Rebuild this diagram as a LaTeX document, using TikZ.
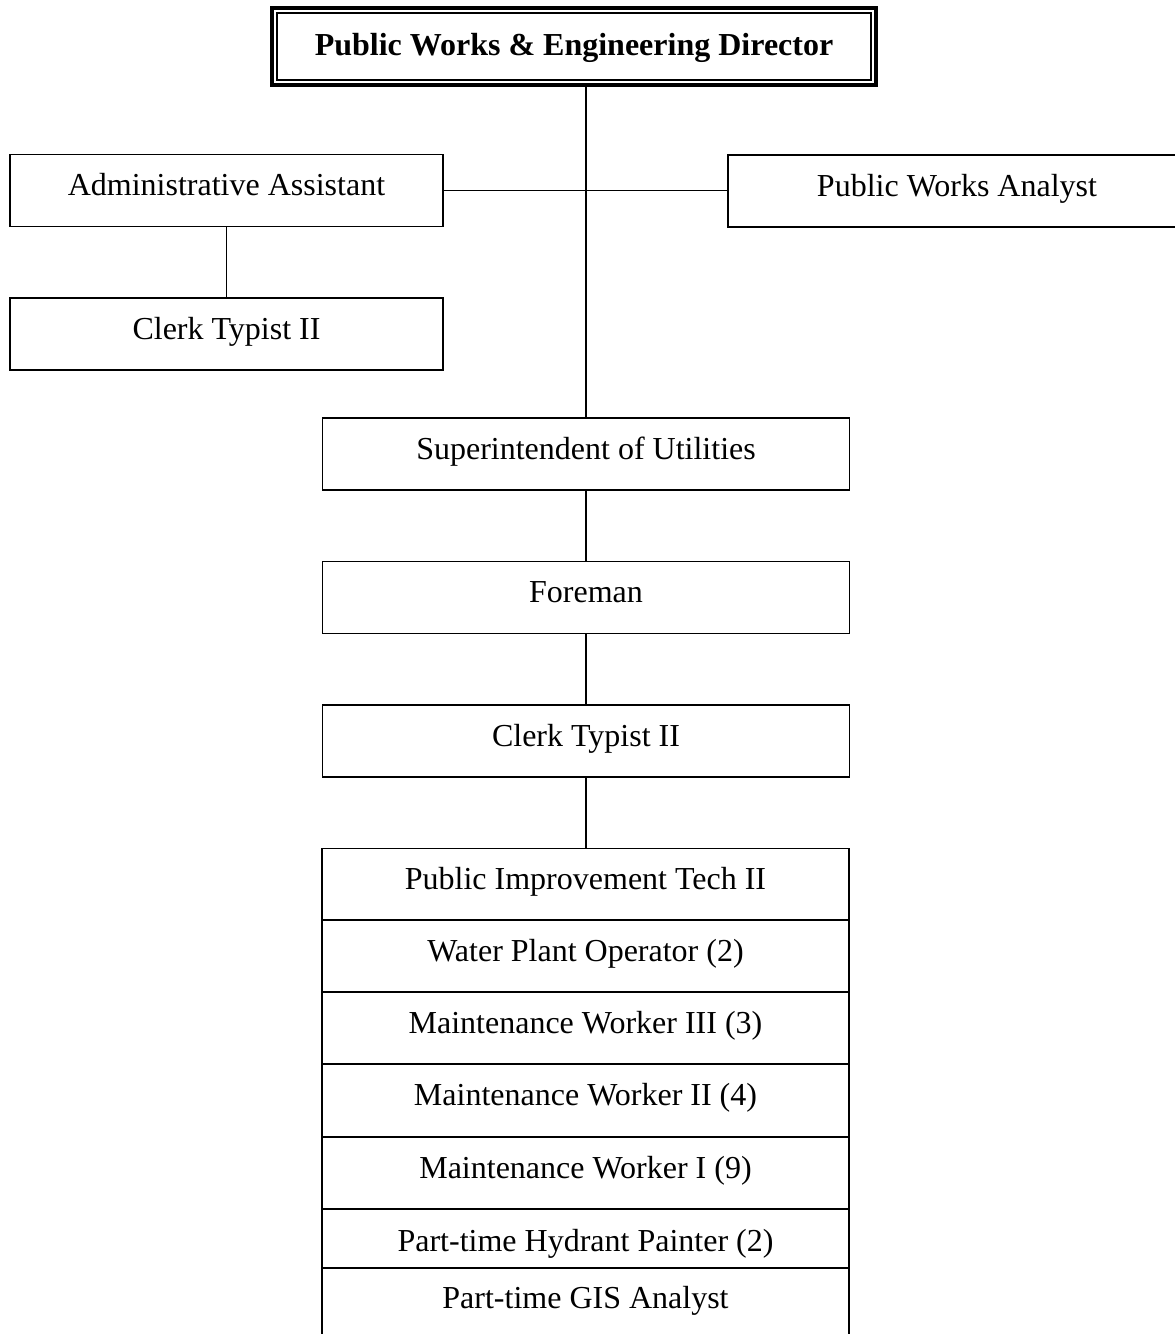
\documentclass[tikz,border=0pt]{standalone}
\usepackage{fontspec}
\setmainfont{Liberation Serif}
\begin{document}
\begin{tikzpicture}[x=1pt,y=-1pt,
  every node/.style={font=\fontsize{32}{32}\selectfont},
  post/.style={draw, line width=1.8pt, rectangle, inner sep=0pt, outer sep=0pt, align=center,
    text height=41pt, text depth=31pt},
  wide/.style={post, minimum width=433pt},
  mid/.style={post, minimum width=527pt},
  row/.style={mid},
  link/.style={line width=1.8pt}]
\useasboundingbox (0,0) rectangle (1175,1334);

% head of department, framed by a heavy outer and a thin inner line
\node[draw, line width=3.5pt, rectangle, inner sep=0pt, outer sep=0pt, minimum width=604pt,
  text height=47pt, text depth=30pt, font=\fontsize{32}{32}\selectfont\bfseries]
  (dir) at (574,46.5) {Public Works \& Engineering Director};
\draw[line width=1.2pt] ([xshift=5pt,yshift=-5pt]dir.north west) rectangle ([xshift=-5pt,yshift=5pt]dir.south east);

% staff positions
\node[wide] (admin) at (226.5,190.5) {Administrative Assistant};
\node[post, minimum width=458pt] (analyst) at (957,191) {Public Works Analyst};
\node[wide] (clerkA) at (226.5,334) {Clerk Typist II};

% line of command
\node[mid] (super) at (586,454) {Superintendent of Utilities};
\node[mid] (fore) at (586,597.5) {Foreman};
\node[mid] (clerkB) at (586,741) {Clerk Typist II};

% field crew
\node[row] (r1) at (585.5,884.5) {Public Improvement Tech II};
\node[row] (r2) at (585.5,956) {Water Plant Operator (2)};
\node[row] (r3) at (585.5,1028) {Maintenance Worker III (3)};
\node[row] (r4) at (585.5,1100.5) {Maintenance Worker II (4)};
\node[row] (r5) at (585.5,1173) {Maintenance Worker I (9)};
\node[row, text height=42pt, text depth=17pt] (r6) at (585.5,1238.5) {Part-time Hydrant Painter (2)};
\node[post, draw=none, minimum width=527pt] (r7) at (585.5,1303) {Part-time GIS Analyst};
\draw[link] (r7.north west) -- (r7.south west);
\draw[link] (r7.north east) -- (r7.south east);

% connectors
\draw[link] (dir.south -| super.north) -- (super.north);
\draw[link] (admin.east) -- (admin.east -| analyst.west);
\draw[link] (admin.south) -- (clerkA.north);
\draw[link] (super.south) -- (fore.north);
\draw[link] (fore.south) -- (clerkB.north);
\draw[link] (clerkB.south) -- (clerkB.south |- r1.north);
\end{tikzpicture}
\end{document}
